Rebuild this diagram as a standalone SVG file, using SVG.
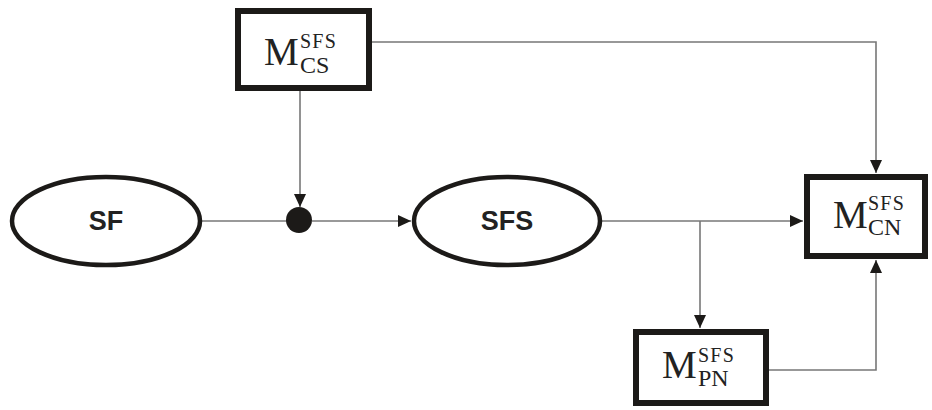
<svg xmlns="http://www.w3.org/2000/svg" width="932" height="410" viewBox="0 0 932 410">
  <style>
    .box { fill: #fff; stroke: #1c1a18; stroke-width: 6; }
    .oval { fill: #fff; stroke: #1c1a18; stroke-width: 4.5; }
    .wire { fill: none; stroke: #777; stroke-width: 1.6; }
    .lbl { font-family: "Liberation Sans", Arial, sans-serif; font-weight: bold; font-size: 27px; fill: #222; text-anchor: middle; }
    .m { font-family: "Liberation Serif", "Times New Roman", serif; font-size: 39px; fill: #222; }
    .sup { font-family: "Liberation Serif", "Times New Roman", serif; font-size: 20px; fill: #222; letter-spacing: 1.2px; }
    .sub { font-family: "Liberation Serif", "Times New Roman", serif; font-size: 24px; fill: #222; }
  </style>
  <defs>
    <marker id="arr" markerUnits="userSpaceOnUse" markerWidth="14" markerHeight="12" refX="13" refY="6" orient="auto">
      <path d="M0,0 L13,6 L0,12 Z" fill="#1c1a18"/>
    </marker>
  </defs>
  <rect width="932" height="410" fill="#fff"/>

  <g id="connectors">
    <polyline class="wire" points="372,42 876,42 876,173" marker-end="url(#arr)"/>
    <line class="wire" x1="300" y1="91" x2="300" y2="207" marker-end="url(#arr)"/>
    <line class="wire" x1="202" y1="221" x2="287" y2="221"/>
    <line class="wire" x1="312" y1="221" x2="411" y2="221" marker-end="url(#arr)"/>
    <line class="wire" x1="602" y1="221" x2="803" y2="221" marker-end="url(#arr)"/>
    <line class="wire" x1="700" y1="221" x2="700" y2="328" marker-end="url(#arr)"/>
    <polyline class="wire" points="769,370 876,370 876,260" marker-end="url(#arr)"/>
  </g>

  <g id="junction">
    <circle cx="299" cy="220" r="13" fill="#1c1a18"/>
  </g>

  <g id="sf">
    <ellipse class="oval" cx="106" cy="221" rx="94" ry="44"/>
    <text class="lbl" x="106" y="230">SF</text>
  </g>

  <g id="sfs">
    <ellipse class="oval" cx="507" cy="221" rx="93" ry="44"/>
    <text class="lbl" x="507" y="230">SFS</text>
  </g>

  <g id="m-cs">
    <rect class="box" x="238" y="11" width="131" height="77"/>
    <text class="m" x="264" y="65">M</text>
    <text class="sup" x="300" y="48">SFS</text>
    <text class="sub" x="300" y="73">CS</text>
  </g>

  <g id="m-cn">
    <rect class="box" x="807" y="177" width="118" height="79"/>
    <text class="m" x="833" y="228">M</text>
    <text class="sup" x="868" y="210">SFS</text>
    <text class="sub" x="868" y="235">CN</text>
  </g>

  <g id="m-pn">
    <rect class="box" x="636" y="332" width="130" height="71"/>
    <text class="m" x="662" y="378">M</text>
    <text class="sup" x="698" y="362">SFS</text>
    <text class="sub" x="698" y="386">PN</text>
  </g>
</svg>
